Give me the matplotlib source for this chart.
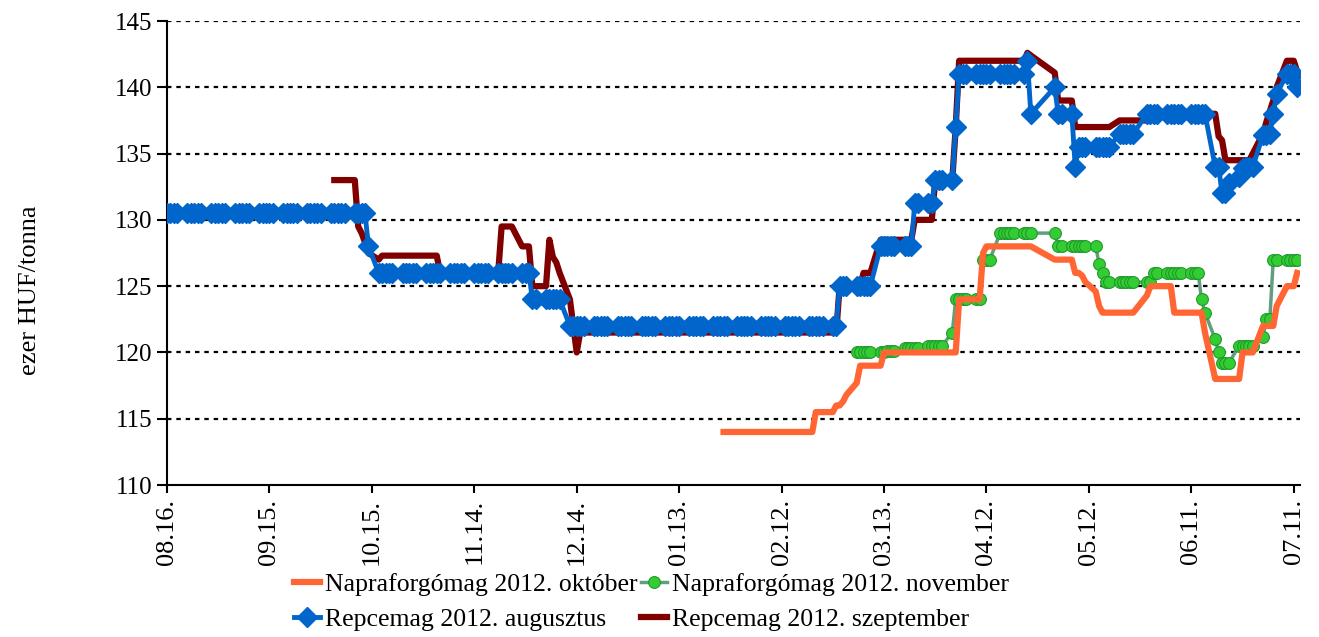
import matplotlib
matplotlib.use('Agg')
import matplotlib.pyplot as plt
import matplotlib.dates as mdates
import numpy as np
import pandas as pd

# price changes: (first trading day of new level, value)
blue_steps = [('2011-08-16', 130.5), ('2011-10-14', 128), ('2011-10-17', 126), ('2011-12-01', 124),
              ('2011-12-12', 122), ('2012-02-29', 125), ('2012-03-12', 128), ('2012-03-22', 131.3),
              ('2012-03-28', 133), ('2012-04-03', 137), ('2012-04-04', 141), ('2012-04-24', 142),
              ('2012-04-25', 138), ('2012-05-02', 140), ('2012-05-03', 138), ('2012-05-08', 134),
              ('2012-05-09', 135.5), ('2012-05-21', 136.5), ('2012-05-29', 138), ('2012-06-18', 134),
              ('2012-06-20', 132), ('2012-06-22', 132.8), ('2012-06-25', 133.2), ('2012-06-26', 133.9),
              ('2012-06-27', 134), ('2012-07-02', 136.4), ('2012-07-04', 136.5), ('2012-07-05', 138),
              ('2012-07-06', 139.5), ('2012-07-09', 141), ('2012-07-12', 140)]

red_steps = [('2011-10-04', 133), ('2011-10-11', 129.5), ('2011-10-12', 129), ('2011-10-13', 128.3),
             ('2011-10-14', 127.5), ('2011-10-17', 127), ('2011-10-18', 127.3), ('2011-11-04', 126),
             ('2011-11-22', 129.5), ('2011-11-28', 128), ('2011-12-01', 125), ('2011-12-06', 128.5),
             ('2011-12-07', 127.2), ('2011-12-08', 126.8), ('2011-12-09', 126), ('2011-12-12', 124),
             ('2011-12-13', 122), ('2011-12-14', 120), ('2011-12-15', 121.5), ('2012-02-29', 125),
             ('2012-03-07', 126), ('2012-03-12', 128.5), ('2012-03-22', 130), ('2012-03-28', 133),
             ('2012-04-03', 137), ('2012-04-04', 142), ('2012-04-24', 142.6), ('2012-04-25', 142.4),
             ('2012-05-02', 141.1), ('2012-05-03', 139), ('2012-05-08', 137), ('2012-05-21', 137.5),
             ('2012-05-31', 138), ('2012-06-19', 136.3), ('2012-06-20', 136), ('2012-06-21', 134.5),
             ('2012-06-29', 135), ('2012-07-02', 136.5), ('2012-07-03', 137.4), ('2012-07-04', 138.2),
             ('2012-07-05', 139), ('2012-07-06', 140), ('2012-07-09', 142), ('2012-07-12', 141.2)]

orange_steps = [('2012-01-26', 114), ('2012-02-22', 115.5), ('2012-02-28', 116), ('2012-03-01', 116.3),
                ('2012-03-02', 116.8), ('2012-03-05', 117.7), ('2012-03-06', 119), ('2012-03-13', 120),
                ('2012-04-04', 124), ('2012-04-11', 127.5), ('2012-04-12', 128), ('2012-05-02', 127),
                ('2012-05-08', 126), ('2012-05-10', 125.8), ('2012-05-11', 125.3), ('2012-05-14', 124.6),
                ('2012-05-15', 123.5), ('2012-05-16', 123), ('2012-05-29', 124.3), ('2012-05-30', 125),
                ('2012-06-06', 123), ('2012-06-15', 121.5), ('2012-06-18', 118), ('2012-06-26', 120),
                ('2012-07-02', 122), ('2012-07-06', 123.5), ('2012-07-09', 125), ('2012-07-12', 126)]

green_steps = [('2012-03-05', 120), ('2012-03-14', 120.1), ('2012-03-19', 120.3), ('2012-03-26', 120.5),
               ('2012-04-02', 121.5), ('2012-04-03', 124), ('2012-04-11', 127), ('2012-04-16', 129),
               ('2012-05-03', 128), ('2012-05-15', 126.7), ('2012-05-16', 126), ('2012-05-17', 125.3),
               ('2012-05-31', 126), ('2012-06-14', 124), ('2012-06-15', 123), ('2012-06-18', 121),
               ('2012-06-19', 120), ('2012-06-20', 119.2), ('2012-06-25', 120.5), ('2012-07-02', 121.2),
               ('2012-07-03', 122.5), ('2012-07-05', 127)]

last_day = '2012-07-12'
# days with no quotes (holidays / gaps visible as straight segments)
missing_days = ['2012-04-26', '2012-04-27', '2012-04-30', '2012-05-01', '2012-05-28']

tick_dates = ['2011-08-16', '2011-09-15', '2011-10-15', '2011-11-14', '2011-12-14', '2012-01-13',
              '2012-02-12', '2012-03-13', '2012-04-12', '2012-05-12', '2012-06-11', '2012-07-11']

labels = ['Napraforgómag 2012. október', 'Napraforgómag 2012. november',
          'Repcemag 2012. augusztus', 'Repcemag 2012. szeptember']


def daily(steps):
    starts = pd.to_datetime([s[0] for s in steps])
    vals = np.array([s[1] for s in steps])
    days = pd.bdate_range(starts[0], last_day)
    days = days[~days.isin(pd.to_datetime(missing_days))]
    idx = np.searchsorted(starts.values, days.values, side='right') - 1
    return days, vals[idx]


plt.rcParams['font.family'] = 'Liberation Serif'
fig = plt.figure(figsize=(13.19, 6.37), dpi=100)
ax = fig.add_axes([167 / 1319, 1 - 485 / 637, (1300 - 167) / 1319, (485 - 21) / 637])

x, y = daily(green_steps)
l_green, = ax.plot(x, y, color='#5f9f7f', lw=2.5, marker='o', ms=8.5, mfc='#33cc33', mec='#1f9a2a',
                   mew=0.8, zorder=3)
x, y = daily(orange_steps)
l_orange, = ax.plot(x, y, color='#ff6633', lw=4.5, zorder=4)
x, y = daily(red_steps)
l_red, = ax.plot(x, y, color='#800000', lw=4.5, zorder=5)
x, y = daily(blue_steps)
l_blue, = ax.plot(x, y, color='#0066cc', lw=3.5, marker='D', ms=10, mfc='#0066cc', mec='#0066cc',
                  zorder=6)

ax.set_ylim(110, 145)
ax.set_yticks(range(110, 146, 5))
ax.set_xlim(pd.Timestamp('2011-08-16'), pd.Timestamp(last_day) + pd.Timedelta(hours=20))
ax.set_xticks(pd.to_datetime(tick_dates))
ax.xaxis.set_major_formatter(mdates.DateFormatter('%m.%d.'))
plt.setp(ax.get_xticklabels(), rotation=90)
ax.tick_params(axis='y', labelsize=18, direction='out', length=7, width=1.5, colors='black')
ax.tick_params(axis='x', labelsize=19, direction='out', length=6, width=1.5, colors='black', pad=4)

for v in range(115, 146, 5):
    ax.axhline(v, color='black', lw=1.6, ls=(0, (2, 2.2)), zorder=1)
for side in ['top', 'right']:
    ax.spines[side].set_visible(False)
for side in ['left', 'bottom']:
    ax.spines[side].set_linewidth(1.5)

fig.text(0.023, 1 - 290 / 637, 'ezer HUF/tonna', rotation=90, va='center', ha='center', fontsize=19)

fig.legend([l_orange, l_blue, l_green, l_red], [labels[0], labels[2], labels[1], labels[3]],
           ncol=2, loc='upper left', bbox_to_anchor=(294 / 1319, 1 - 573 / 637), frameon=False,
           fontsize=18.5, handlelength=1.0, handletextpad=0.2, columnspacing=0.15,
           labelspacing=0.45, borderaxespad=0, borderpad=0)

fig.savefig('out.png', dpi=100)
